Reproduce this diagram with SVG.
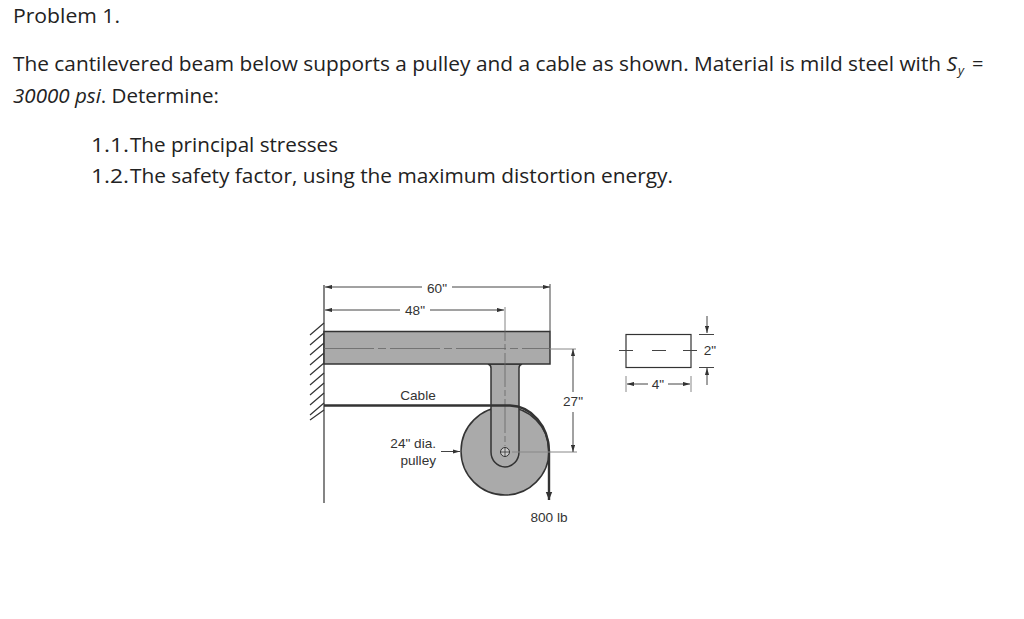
<svg xmlns="http://www.w3.org/2000/svg" width="1024" height="619" viewBox="0 0 1024 619">
<defs>
<marker id="a" viewBox="0 0 10 6" refX="10" refY="3" markerWidth="7" markerHeight="4.5" markerUnits="userSpaceOnUse" orient="auto-start-reverse"><path d="M0 0L10 3L0 6Z" fill="#333"/></marker>
<marker id="b" viewBox="0 0 10 8" refX="10" refY="4" markerWidth="8" markerHeight="11" markerUnits="userSpaceOnUse" orient="auto"><path d="M0 0L10 4L0 8Z" fill="#333"/></marker>
</defs>
<style>
.t{font-family:"Open Sans","Noto Sans",sans-serif;font-size:20px;fill:#222}
.l{font-family:"Liberation Sans",Arial,sans-serif;font-size:13.6px;fill:#333}
.d{stroke:#444;stroke-width:1;fill:none}
.w{stroke:#333;stroke-width:1.200;fill:none}
.e{stroke:#888;stroke-width:1;fill:none}
.g{fill:#aaa;stroke:#333;stroke-width:1.500}
.c{stroke:#666;stroke-width:.8;fill:none}
</style>
<rect width="1024" height="619" fill="#fff"/>
<g id="text">
<text class="t" x="13" y="23" textLength="107" lengthAdjust="spacingAndGlyphs">Problem 1.</text>
<text class="t" x="13" y="71" textLength="944" lengthAdjust="spacingAndGlyphs">The cantilevered beam below supports a pulley and a cable as shown. Material is mild steel with <tspan font-style="italic">S</tspan></text>
<text class="t" x="958" y="75" font-style="italic" style="font-size:13px">y</text>
<text class="t" x="972" y="71">=</text>
<text class="t" x="13" y="103" textLength="206" lengthAdjust="spacingAndGlyphs"><tspan font-style="italic">30000 psi</tspan>. Determine:</text>
<text class="t" x="91" y="152" textLength="38" lengthAdjust="spacingAndGlyphs">1.1.</text>
<text class="t" x="130" y="152" textLength="208" lengthAdjust="spacingAndGlyphs">The principal stresses</text>
<text class="t" x="91" y="183" textLength="38" lengthAdjust="spacingAndGlyphs">1.2.</text>
<text class="t" x="130" y="183" textLength="543" lengthAdjust="spacingAndGlyphs">The safety factor, using the maximum distortion energy.</text>
</g>
<g id="wall">
<path class="w" d="M324 285V503"/>
<path class="w" d="M324 323l-14 12M324 333l-14 12M324 343l-14 12M324 353l-14 12M324 363l-14 12M324 373l-14 12M324 383l-14 12M324 393l-14 12M324 403l-14 12M324 410l-14 10"/>
</g>
<g id="pulley">
<circle class="g" cx="505" cy="451" r="44"/>
</g>
<g id="beam">
<path class="g" d="M488 364Q491 365 491 368V452A14 15 0 0 0 519 452V368Q519 365 522 364Z"/>
<rect class="g" x="324" y="331.500" width="226" height="32.500"/>
<path class="c" stroke-dasharray="50 4 8 4" d="M324 348.500H550"/>
<path class="c" stroke-dasharray="34 3 6 3" d="M505 307V446"/>
<circle cx="505" cy="452" r="4.500" fill="#ccc" stroke="#333"/>
<path d="M500.500 452H509.500M505 447.500V456.500" stroke="#333" stroke-width=".8"/>
</g>
<g id="connectors">
<path d="M324 405.500H510A40 46 0 0 1 549 451V500" fill="none" stroke="#333" stroke-width="2.400" marker-end="url(#b)"/>
<path class="d" marker-start="url(#a)" marker-end="url(#a)" d="M325 287H422M452 287H550"/>
<path class="d" marker-start="url(#a)" d="M325 310H400"/>
<path class="d" marker-end="url(#a)" d="M430 310H504"/>
<path class="d" d="M550 284V331"/>
<path class="e" d="M550 349H576M512 452H577"/>
<path class="d" marker-end="url(#a)" d="M573 392V349"/>
<path class="d" marker-end="url(#a)" d="M573 412V452"/>
<path class="d" marker-end="url(#a)" d="M441 451.500H460"/>
</g>
<g id="section">
<rect x="626" y="334.500" width="65" height="33" fill="#fff" stroke="#333" stroke-width="1.200"/>
<path class="d" d="M619 350.500H633M652 350.500H666M683 350.500H697"/>
<path class="d" d="M699 334.500H714M699 367.500H714"/>
<path class="d" marker-end="url(#a)" d="M707 316V333"/>
<path class="d" marker-end="url(#a)" d="M707 385V368"/>
<path class="e" d="M626 376V392M691 376V392"/>
<path class="d" marker-end="url(#a)" d="M648 384H627"/>
<path class="d" marker-end="url(#a)" d="M668 384H690"/>
</g>
<g id="labels">
<text class="l" x="437" y="293" text-anchor="middle">60"</text>
<text class="l" x="415" y="315" text-anchor="middle">48"</text>
<text class="l" x="418" y="400" text-anchor="middle">Cable</text>
<text class="l" x="573" y="406" text-anchor="middle">27"</text>
<text class="l" x="436" y="448" text-anchor="end">24" dia.</text>
<text class="l" x="436" y="465" text-anchor="end">pulley</text>
<text class="l" x="549" y="522" text-anchor="middle">800 lb</text>
<text class="l" x="710" y="355" text-anchor="middle">2"</text>
<text class="l" x="658" y="389" text-anchor="middle">4"</text>
</g>
</svg>
